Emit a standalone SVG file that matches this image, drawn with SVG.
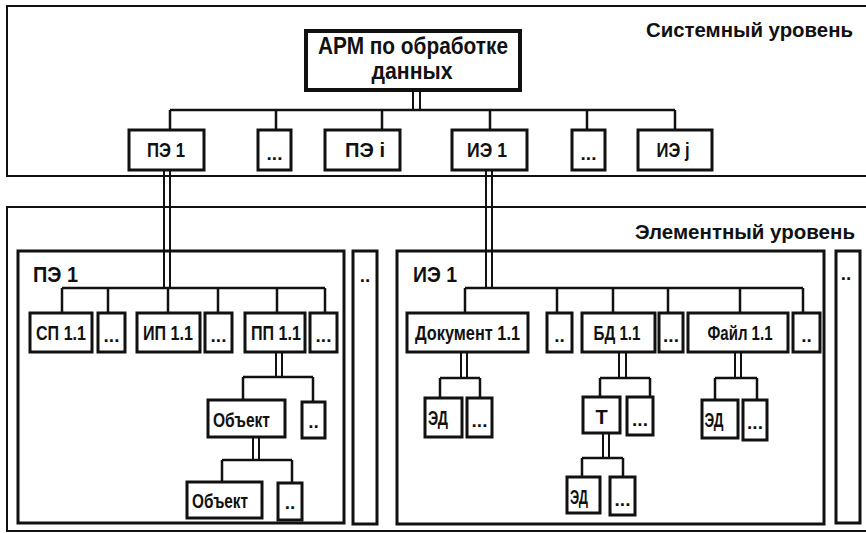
<svg xmlns="http://www.w3.org/2000/svg" width="866" height="533" viewBox="0 0 866 533">
<style>
.frame{fill:none;stroke:#111;stroke-width:2}
.panel{fill:none;stroke:#111;stroke-width:3}
.box{fill:#fff;stroke:#111;stroke-width:3}
.box2{fill:#fff;stroke:#111;stroke-width:4}
.con{fill:none;stroke:#111;stroke-width:2.5}
.dbl{fill:none;stroke:#111;stroke-width:2}
text{font-family:"Liberation Sans Narrow","Liberation Sans",Arial,sans-serif;font-weight:bold;fill:#111}
.lbl{font-size:20px;text-anchor:middle}
.dots{font-size:19px;text-anchor:middle}
.lvl{font-family:"Liberation Sans",Arial,sans-serif;font-size:20.5px;text-anchor:end}
.pnl{font-size:22px}
.big{font-size:23px;text-anchor:middle}
</style>
<rect width="866" height="533" fill="#fff"/>

<g id="system-level">
<path class="frame" d="M870 6 H7 V176 H870"/>
<text class="lvl" x="853" y="37" textLength="207" lengthAdjust="spacingAndGlyphs">Системный уровень</text>
</g>
<g id="element-level">
<path class="frame" d="M870 207 H7 V531 H870"/>
<text class="lvl" x="855" y="239" textLength="220" lengthAdjust="spacingAndGlyphs">Элементный уровень</text>
</g>

<g id="panel-pe1">
<rect class="panel" x="18" y="251" width="326" height="272"/>
<text class="pnl" x="33" y="282" textLength="45" lengthAdjust="spacingAndGlyphs">ПЭ 1</text>
</g>
<g id="panel-dots1">
<rect class="panel" x="353" y="251" width="24" height="273"/>
<text class="dots" x="365" y="282">..</text>
</g>
<g id="panel-ie1">
<rect class="panel" x="397" y="251" width="427" height="273"/>
<text class="pnl" x="413" y="282" textLength="44" lengthAdjust="spacingAndGlyphs">ИЭ 1</text>
</g>
<g id="panel-dots2">
<rect class="panel" x="836" y="251" width="24" height="272"/>
<text class="dots" x="846" y="280">..</text>
</g>

<g id="connectors">
<path class="dbl" d="M413 90 V110 M420 90 V110"/>
<path class="con" d="M170 110 H675 M170 110 V130 M276 110 V130 M382 110 V130 M490 110 V130 M587 110 V130 M675 110 V130"/>
<path class="dbl" d="M164 170 V288 M170 170 V288"/>
<path class="dbl" d="M486 170 V288 M492 170 V288"/>
<path class="con" d="M62 288 H325 M62 288 V313 M108 288 V313 M168 288 V313 M218 288 V313 M277 288 V313 M325 288 V313"/>
<path class="dbl" d="M276 352 V377 M282 352 V377"/>
<path class="con" d="M243 377 H313 M243 377 V400 M313 377 V402"/>
<path class="dbl" d="M253 437 V460 M259 437 V460"/>
<path class="con" d="M222 460 H292 M222 460 V482 M292 460 V483"/>
<path class="con" d="M465 288 H803 M465 288 V313 M557 288 V313 M613 288 V313 M668 288 V313 M740 288 V313 M803 288 V313"/>
<path class="dbl" d="M461 352 V378 M467 352 V378"/>
<path class="con" d="M440 378 H480 M440 378 V398 M480 378 V398"/>
<path class="dbl" d="M619 352 V378 M626 352 V378"/>
<path class="con" d="M600 378 H650 M600 378 V397 M650 378 V397"/>
<path class="dbl" d="M603 433 V458 M609 433 V458"/>
<path class="con" d="M582 458 H623 M582 458 V477 M623 458 V477"/>
<path class="dbl" d="M735 352 V378 M741 352 V378"/>
<path class="con" d="M715 378 H757 M715 378 V400 M757 378 V400"/>
</g>

<g id="arm">
<rect class="box2" x="306" y="31" width="214" height="59"/>
<text class="big" x="413" y="54" textLength="190" lengthAdjust="spacingAndGlyphs">АРМ по обработке</text>
<text class="big" x="412" y="79" textLength="81" lengthAdjust="spacingAndGlyphs">данных</text>
</g>
<g id="pe1"><rect class="box" x="129" y="130" width="75" height="40"/><text class="lbl" x="166" y="157" textLength="38" lengthAdjust="spacingAndGlyphs">ПЭ 1</text></g>
<g id="pe-dots"><rect class="box" x="258" y="130" width="33" height="40"/><text class="dots" x="274.5" y="160">...</text></g>
<g id="pei"><rect class="box" x="325" y="130" width="75" height="40"/><text class="lbl" x="365" y="157" textLength="40" lengthAdjust="spacingAndGlyphs">ПЭ i</text></g>
<g id="ie1"><rect class="box" x="452" y="130" width="75" height="40"/><text class="lbl" x="487" y="157" textLength="40" lengthAdjust="spacingAndGlyphs">ИЭ 1</text></g>
<g id="ie-dots"><rect class="box" x="572" y="130" width="33" height="40"/><text class="dots" x="588.5" y="160">...</text></g>
<g id="iej"><rect class="box" x="638" y="130" width="74" height="40"/><text class="lbl" x="673" y="157" textLength="33" lengthAdjust="spacingAndGlyphs">ИЭ j</text></g>

<g id="sp11"><rect class="box" x="30" y="313" width="62" height="39"/><text class="lbl" x="61" y="340" textLength="50" lengthAdjust="spacingAndGlyphs">СП 1.1</text></g>
<g id="sp-dots"><rect class="box" x="98" y="313" width="27" height="39"/><text class="dots" x="111.5" y="342">...</text></g>
<g id="ip11"><rect class="box" x="137" y="313" width="63" height="39"/><text class="lbl" x="168" y="340" textLength="50" lengthAdjust="spacingAndGlyphs">ИП 1.1</text></g>
<g id="ip-dots"><rect class="box" x="205" y="313" width="27" height="39"/><text class="dots" x="218.5" y="342">...</text></g>
<g id="pp11"><rect class="box" x="245" y="313" width="60" height="39"/><text class="lbl" x="276" y="340" textLength="50" lengthAdjust="spacingAndGlyphs">ПП 1.1</text></g>
<g id="pp-dots"><rect class="box" x="310" y="313" width="27" height="39"/><text class="dots" x="323.5" y="342">...</text></g>
<g id="obj1"><rect class="box" x="208" y="400" width="77" height="37"/><text class="lbl" x="241.5" y="427" textLength="57" lengthAdjust="spacingAndGlyphs">Объект</text></g>
<g id="obj1-dots"><rect class="box" x="302" y="402" width="23" height="36"/><text class="dots" x="313.5" y="428">..</text></g>
<g id="obj2"><rect class="box" x="187" y="482" width="75" height="36"/><text class="lbl" x="220" y="508" textLength="56" lengthAdjust="spacingAndGlyphs">Объект</text></g>
<g id="obj2-dots"><rect class="box" x="278" y="483" width="24" height="37"/><text class="dots" x="290" y="509">..</text></g>

<g id="doc11"><rect class="box" x="407" y="313" width="121" height="39"/><text class="lbl" x="467.5" y="340" textLength="105" lengthAdjust="spacingAndGlyphs">Документ 1.1</text></g>
<g id="doc-dots"><rect class="box" x="547" y="313" width="25" height="39"/><text class="dots" x="559.5" y="342">..</text></g>
<g id="bd11"><rect class="box" x="582" y="313" width="73" height="39"/><text class="lbl" x="617" y="340" textLength="47" lengthAdjust="spacingAndGlyphs">БД 1.1</text></g>
<g id="bd-dots"><rect class="box" x="659" y="313" width="24" height="39"/><text class="dots" x="671" y="342">...</text></g>
<g id="file11"><rect class="box" x="688" y="313" width="100" height="39"/><text class="lbl" x="740" y="340" textLength="65" lengthAdjust="spacingAndGlyphs">Файл 1.1</text></g>
<g id="file-dots"><rect class="box" x="793" y="313" width="27" height="39"/><text class="dots" x="806.5" y="342">..</text></g>

<g id="doc-ed"><rect class="box" x="425" y="398" width="37" height="39"/><text class="lbl" x="438" y="425" textLength="20" lengthAdjust="spacingAndGlyphs">ЭД</text></g>
<g id="doc-ed-dots"><rect class="box" x="467" y="398" width="25" height="39"/><text class="dots" x="479.5" y="427">...</text></g>
<g id="bd-t"><rect class="box" x="583" y="397" width="37" height="36"/><text class="lbl" x="601.5" y="424">Т</text></g>
<g id="bd-t-dots"><rect class="box" x="627" y="397" width="26" height="38"/><text class="dots" x="640" y="426">...</text></g>
<g id="t-ed"><rect class="box" x="567" y="477" width="33" height="36"/><text class="lbl" x="579" y="504" textLength="18" lengthAdjust="spacingAndGlyphs">ЭД</text></g>
<g id="t-ed-dots"><rect class="box" x="610" y="477" width="25" height="38"/><text class="dots" x="622.5" y="506">...</text></g>
<g id="file-ed"><rect class="box" x="702" y="400" width="36" height="38"/><text class="lbl" x="714" y="427" textLength="19" lengthAdjust="spacingAndGlyphs">ЭД</text></g>
<g id="file-ed-dots"><rect class="box" x="743" y="400" width="24" height="40"/><text class="dots" x="755" y="429">...</text></g>
</svg>
